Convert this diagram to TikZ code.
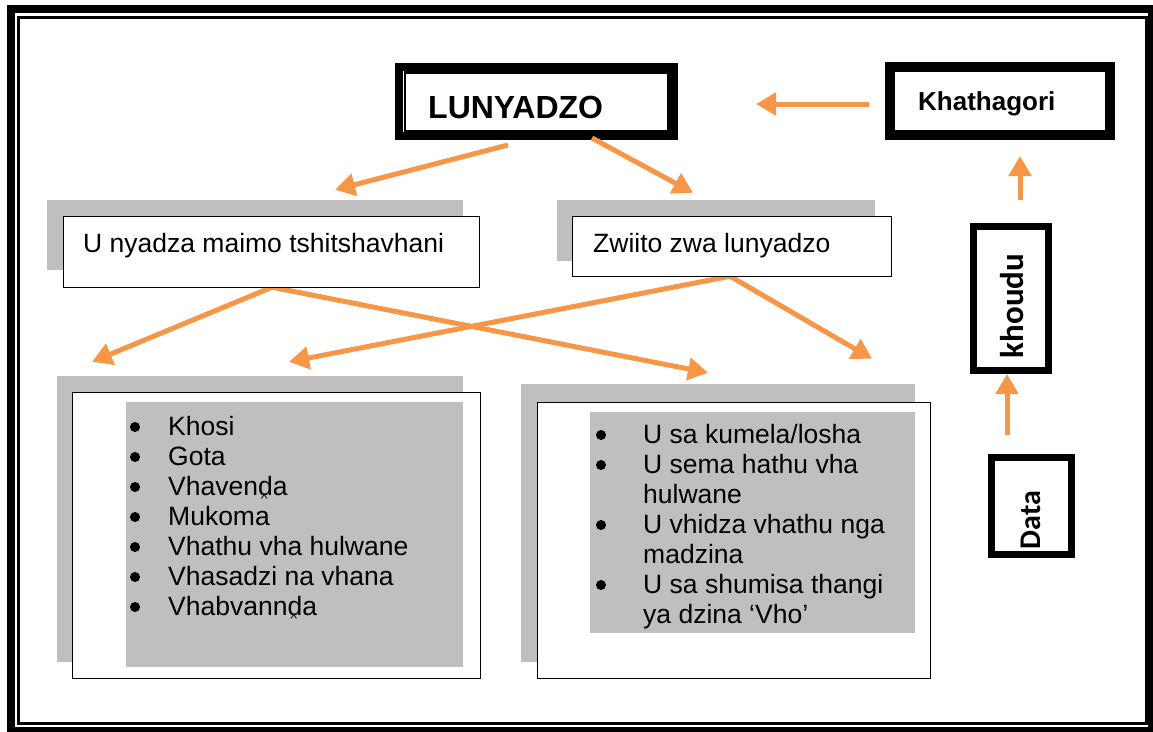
\documentclass[tikz,border=0pt]{standalone}
\usepackage{fontspec}
\setmainfont{Liberation Sans}
\newfontfamily\carlito{Carlito}
\usetikzlibrary{arrows.meta,calc}

\definecolor{arroworange}{RGB}{247,150,70}
\definecolor{shade}{RGB}{191,191,191}

% d with a circumflex below (Venda letter)
\newcommand\dcb{\ooalign{d\cr\hidewidth\kern-0.08em\smash{\raisebox{-0.27em}{\scalebox{0.55}[0.4]{\textasciicircum}}}\hidewidth\cr}}

\tikzset{
  flow/.style={draw=arroworange, line width=5pt, -{Triangle[length=20pt,width=22pt]}},
  shadowbox/.style={fill=shade, draw=none, inner sep=0pt},
  plainbox/.style={draw=black, line width=1.4pt, fill=white, inner sep=0pt},
  innershade/.style={fill=shade, draw=none, inner sep=0pt},
  heavybox/.style={draw=black, line width=8pt, fill=white, inner sep=0pt},
  tallbox/.style={draw=black, line width=7pt, fill=white, inner sep=0pt},
  thinframe/.style={draw=black, line width=2.2pt},
  body/.style={font=\fontsize{26.5}{30}\selectfont, inner sep=0pt, anchor=base west},
  title/.style={font=\fontsize{32}{36}\selectfont\bfseries, inner sep=0pt, anchor=base west},
  label/.style={font=\fontsize{26}{30}\selectfont\bfseries, inner sep=0pt, anchor=base west},
  sidelabel/.style={font={\fontsize{#1}{#1}\selectfont\carlito\bfseries}, inner sep=0pt, rotate=90},
  dot/.style={circle, fill=black, minimum size=10pt, inner sep=0pt},
}

\begin{document}
\begin{tikzpicture}[x=1pt,y=-1pt]
\useasboundingbox (0,0) rectangle (1153,731);
\fill[white] (0,0) rectangle (1153,731);

% page frame: heavy outer rule with a thin rule inside
\draw[line width=8pt] (11,9) rectangle (1152,731);
\draw[line width=3pt] (18.5,17.5) rectangle (1146,723.5);

% shadows behind the boxes
\node[shadowbox, minimum width=416, minimum height=70] (shadowA) at (255,235) {};
\node[shadowbox, minimum width=318, minimum height=61] (shadowB) at (716,230.5) {};
\node[shadowbox, minimum width=406, minimum height=286] (shadowC) at (260,519) {};
\node[shadowbox, minimum width=394, minimum height=278] (shadowD) at (718,523) {};

% title boxes
\node[heavybox, minimum width=275, minimum height=69] (lun) at (536.5,101.5) {};
\draw[thinframe] ($(lun.north west)+(10,9.5)$) rectangle ($(lun.south east)+(-9.5,-9)$);
\node[title] (luntext) at (428,118) {LUNYADZO};

\node[heavybox, minimum width=222, minimum height=70] (kha) at (1000,101) {};
\draw[thinframe] ($(kha.north west)+(9,8.5)$) rectangle ($(kha.south east)+(-9,-8.5)$);
\node[label] (khatext) at (918,110) {Khathagori};

\node[tallbox, minimum width=75, minimum height=144] (koudu) at (1011,298.5) {};
\node[sidelabel=33] (koudutext) at (1012,306) {khoudu};

\node[tallbox, minimum width=80, minimum height=97] (data) at (1031.5,506) {};
\node[sidelabel=30] (datatext) at (1031,520) {Data};

% connectors between the upper boxes
\draw[flow] ($(kha.west)+(-16,3)$) -- ($(lun.east)+(78,2.5)$);
\draw[flow] ($(data.north)+(-24.5,-19.5)$) -- ($(koudu.south)+(-4,0)$);
\draw[flow] ($(koudu.north)+(9,-23.5)$) -- ($(kha.south)+(20,16)$);
\draw[flow] ($(lun.south)+(-28.5,5)$) -- ($(shadowA.north)+(80,-10)$);
\draw[flow] ($(lun.south)+(55.5,-2)$) -- ($(shadowB.north)+(-23,-7)$);

% connectors down to the lists
\draw[flow] ($(shadowA.south)+(17,17)$) -- ($(shadowC.north)+(-168,-14)$);
\draw[flow] ($(shadowA.south)+(17,17)$) -- ($(shadowD.north)+(-10,-11)$);
\draw[flow] ($(shadowB.south)+(14,15)$) -- ($(shadowC.north)+(29,-14)$);
\draw[flow] ($(shadowB.south)+(14,15)$) -- ($(shadowD.north)+(154,-25)$);

% heading boxes
\node[plainbox, minimum width=416, minimum height=71] (boxA) at (271.5,252) {};
\node[body] (headA) at (83,252) {U nyadza maimo tshitshavhani};
\node[plainbox, minimum width=319, minimum height=60] (boxB) at (732,246.5) {};
\node[body] (headB) at (593,252) {Zwiito zwa lunyadzo};

% left list
\node[plainbox, minimum width=408, minimum height=286] (listA) at (276.5,535.5) {};
\node[innershade, minimum width=337, minimum height=265] (fillA) at (294.5,534.5) {};
\foreach \n/\y/\t in {1/435/Khosi, 2/465/Gota, 3/495/Vhaven\dcb a, 4/525/Mukoma,
                      5/555/Vhathu vha hulwane, 6/585/Vhasadzi na vhana, 7/615/Vhabvann\dcb a}{
  \node[dot] (dotA\n) at (135,\y-8) {};
  \node[body] (itemA\n) at (168,\y) {\t};
}

% right list
\node[plainbox, minimum width=393, minimum height=276] (listB) at (734,540.5) {};
\node[innershade, minimum width=325, minimum height=221] (fillB) at (752.5,522.5) {};
\node[dot] (dotB1) at (601,435) {};
\node[body] (itemB1) at (643,443) {U sa kumela/losha};
\node[dot] (dotB2) at (601,465) {};
\node[body] (itemB2) at (643,473) {U sema hathu vha};
\node[body] (itemB2b) at (643,503) {hulwane};
\node[dot] (dotB3) at (601,525) {};
\node[body] (itemB3) at (643,533) {U vhidza vhathu nga};
\node[body] (itemB3b) at (643,563) {madzina};
\node[dot] (dotB4) at (601,585) {};
\node[body] (itemB4) at (643,593) {U sa shumisa thangi};
\node[body] (itemB4b) at (643,623) {ya dzina ‘Vho’};
\end{tikzpicture}
\end{document}
